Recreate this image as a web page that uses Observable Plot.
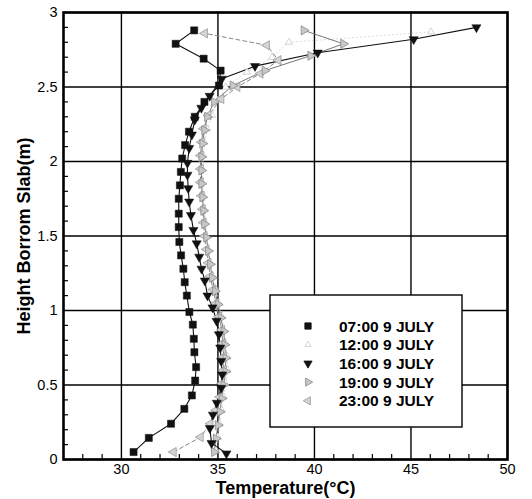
<!DOCTYPE html>
<html><head><meta charset="utf-8">
<script src="https://cdn.jsdelivr.net/npm/d3@7"></script>
<script src="https://cdn.jsdelivr.net/npm/@observablehq/plot@0.6"></script>
<style>
body{margin:0;background:#fff;font-family:Arial,"Liberation Sans",sans-serif}
#wrap{position:relative;width:532px;height:499px}
</style></head><body><div id="wrap"></div>
<script>
// ---- data ----
const xTicks = [30, 35, 40, 45, 50];
const xMinor = [28,29,31,32,33,34,36,37,38,39,41,42,43,44,46,47,48,49];
const yTicks = [0, 0.5, 1, 1.5, 2, 2.5, 3];
const yMinor = [0.1,0.2,0.3,0.4,0.6,0.7,0.8,0.9,1.1,1.2,1.3,1.4,1.6,1.7,1.8,1.9,2.1,2.2,2.3,2.4,2.6,2.7,2.8,2.9];
const seriesNames = ["07:00 9 JULY", "12:00 9 JULY", "16:00 9 JULY", "19:00 9 JULY", "23:00 9 JULY"];

const h0700 = [0.05,0.145,0.24,0.34,0.43,0.53,0.62,0.72,0.81,0.905,0.99,1.10,1.19,1.28,1.37,1.46,1.56,1.65,1.75,1.84,1.93,2.02,2.11,2.20,2.30,2.40,2.51,2.61,2.69,2.79,2.88];
const t0700 = [30.63,31.42,32.57,33.26,33.65,33.82,33.87,33.78,33.75,33.70,33.52,33.39,33.28,33.21,33.09,33.00,32.97,32.97,32.97,33.03,33.08,33.15,33.30,33.50,33.80,34.30,35.05,35.14,34.26,32.81,33.77];

const h1200 = [0.06,0.15,0.24,0.33,0.42,0.51,0.60,0.69,0.78,0.87,0.96,1.05,1.14,1.23,1.32,1.41,1.50,1.59,1.68,1.77,1.86,1.95,2.04,2.13,2.22,2.31,2.41,2.50,2.60,2.70,2.80,2.87];
const t1200 = [34.9,35.0,35.1,35.2,35.3,35.4,35.5,35.5,35.4,35.3,35.2,35.05,34.9,34.75,34.6,34.5,34.4,34.35,34.3,34.25,34.2,34.2,34.25,34.3,34.45,34.7,35.0,35.4,36.5,37.8,38.68,46.04];

const h1600 = [0.04,0.11,0.21,0.30,0.38,0.48,0.57,0.66,0.75,0.84,0.93,1.02,1.10,1.20,1.28,1.36,1.45,1.54,1.64,1.73,1.82,1.91,1.99,2.09,2.18,2.28,2.36,2.44,2.555,2.64,2.73,2.82,2.90];
const t1600 = [35.44,34.67,34.58,34.74,34.94,35.17,35.22,35.17,35.12,35.05,34.93,34.72,34.46,34.32,34.15,34.03,33.90,33.73,33.60,33.51,33.46,33.42,33.42,33.51,33.65,33.80,34.14,34.57,35.20,36.92,40.17,45.14,48.39];

const h1900 = [0.05,0.14,0.23,0.32,0.41,0.50,0.59,0.68,0.77,0.86,0.95,1.04,1.13,1.22,1.31,1.40,1.49,1.58,1.67,1.76,1.85,1.94,2.03,2.12,2.21,2.30,2.40,2.51,2.61,2.71,2.79,2.88];
const t1900 = [34.8,34.9,35.0,35.1,35.2,35.3,35.4,35.4,35.35,35.3,35.15,35.0,34.85,34.7,34.6,34.5,34.4,34.3,34.25,34.2,34.15,34.15,34.15,34.2,34.3,34.45,34.8,35.77,37.43,39.8,41.5,39.45];

const h2300 = [0.05,0.15,0.24,0.33,0.42,0.51,0.60,0.69,0.78,0.87,0.96,1.05,1.14,1.23,1.32,1.41,1.50,1.59,1.68,1.77,1.86,1.95,2.04,2.13,2.22,2.31,2.42,2.50,2.59,2.68,2.78,2.86];
const t2300 = [32.7,34.1,34.6,34.9,35.1,35.2,35.3,35.3,35.25,35.2,35.05,34.9,34.75,34.6,34.5,34.4,34.3,34.25,34.2,34.15,34.1,34.1,34.1,34.15,34.25,34.5,35.17,36.0,37.2,38.13,37.53,34.32];

// ---- build tables ----
const toRows = (name, h, t) => h.map((v, i) => ({series: name, h: v, t: t[i]}));
const r0700 = toRows(seriesNames[0], h0700, t0700);
const r1200 = toRows(seriesNames[1], h1200, t1200);
const r1600 = toRows(seriesNames[2], h1600, t1600);
const r1900 = toRows(seriesNames[3], h1900, t1900);
const r2300 = toRows(seriesNames[4], h2300, t2300);

const styles = [
  {symbol: "square", rotate: 0, r: 4, fill: "#111", stroke: "#111"},
  {symbol: "triangle", rotate: 0, r: 2.6, fill: "#fff", stroke: "#ccc"},
  {symbol: "triangle", rotate: 180, r: 3.4, fill: "#111", stroke: "#111"},
  {symbol: "triangle", rotate: 90, r: 3.4, fill: "#c8c8c8", stroke: "#888"},
  {symbol: "triangle", rotate: -90, r: 3.4, fill: "#d4d4d4", stroke: "#999"}
];
const FONT = "Arial, 'Liberation Sans', sans-serif";

const plot = Plot.plot({
  width: 532, height: 499,
  marginLeft: 63, marginRight: 25, marginTop: 12, marginBottom: 40,
  style: {fontFamily: FONT, fontSize: "14.5px", color: "#000", background: "#fff"},
  x: {domain: [27, 50], label: null},
  y: {domain: [0, 3], label: null},
  marks: [
    Plot.gridX(xTicks, {stroke: "#000", strokeOpacity: 1, strokeWidth: 1.4}),
    Plot.gridY(yTicks, {stroke: "#000", strokeOpacity: 1, strokeWidth: 1.4}),
    Plot.axisX({ticks: xMinor, tickSize: -5, tickFormat: () => "", strokeWidth: 1.2}),
    Plot.axisY({ticks: yMinor, tickSize: -5, tickFormat: () => "", strokeWidth: 1.2}),
    Plot.axisX({ticks: xTicks, tickSize: 0, tickPadding: 4, label: null, fontSize: 14.5, tickFormat: d => String(d)}),
    Plot.axisY({ticks: yTicks, tickSize: 0, tickPadding: 6, label: null, fontSize: 14.5, tickFormat: d => String(d)}),
    // series lines
    Plot.line(r1200, {x: "t", y: "h", stroke: "#ccc", strokeWidth: 0.8, strokeDasharray: "1,3"}),
    Plot.line(r2300, {x: "t", y: "h", stroke: "#888", strokeWidth: 1, strokeDasharray: "4,3"}),
    Plot.line(r1900, {x: "t", y: "h", stroke: "#777", strokeWidth: 1}),
    Plot.line(r0700, {x: "t", y: "h", stroke: "#111", strokeWidth: 1.1}),
    Plot.line(r1600, {x: "t", y: "h", stroke: "#111", strokeWidth: 1.1}),
    // markers
    Plot.dot(r1200, {x: "t", y: "h", ...styles[1], strokeWidth: 0.8}),
    Plot.dot(r2300, {x: "t", y: "h", ...styles[4], strokeWidth: 0.8}),
    Plot.dot(r1900, {x: "t", y: "h", ...styles[3], strokeWidth: 0.8}),
    Plot.dot(r0700, {x: "t", y: "h", ...styles[0], strokeWidth: 0.5}),
    Plot.dot(r1600, {x: "t", y: "h", ...styles[2], strokeWidth: 0.5}),
    Plot.frame({stroke: "#000", strokeWidth: 2.6}),
    Plot.text(["Temperature(°C)"], {frameAnchor: "bottom", dy: 29, textAnchor: "middle", lineAnchor: "middle", fontWeight: "bold", fontSize: 18}),
    Plot.text(["Height Borrom Slab(m)"], {frameAnchor: "left", dx: -39, rotate: -90, textAnchor: "middle", lineAnchor: "middle", fontWeight: "bold", fontSize: 18})
  ]
});
document.getElementById("wrap").appendChild(plot);

// ---- legend box inside the plot ----
const svg = d3.select(plot);
const lg = svg.append("g").attr("transform", "translate(270,295)");
lg.append("rect").attr("width", 192).attr("height", 132)
  .attr("fill", "#fff").attr("stroke", "#000").attr("stroke-width", 1.4);
seriesNames.forEach((name, i) => {
  const s = styles[i];
  const y = 31 + i * 18.7;
  const sym = s.symbol === "square" ? d3.symbolSquare : d3.symbolTriangle;
  lg.append("path")
    .attr("d", d3.symbol(sym, Math.PI * s.r * s.r * 0.8)())
    .attr("transform", `translate(38,${y}) rotate(${s.rotate})`)
    .attr("fill", s.fill).attr("stroke", s.stroke).attr("stroke-width", 0.8);
  lg.append("text").attr("x", 69).attr("y", y).attr("dy", "0.36em")
    .attr("text-anchor", "start")
    .attr("font-weight", "bold").attr("font-size", 15.5)
    .attr("font-family", FONT)
    .text(name);
});
</script>
</body></html>
